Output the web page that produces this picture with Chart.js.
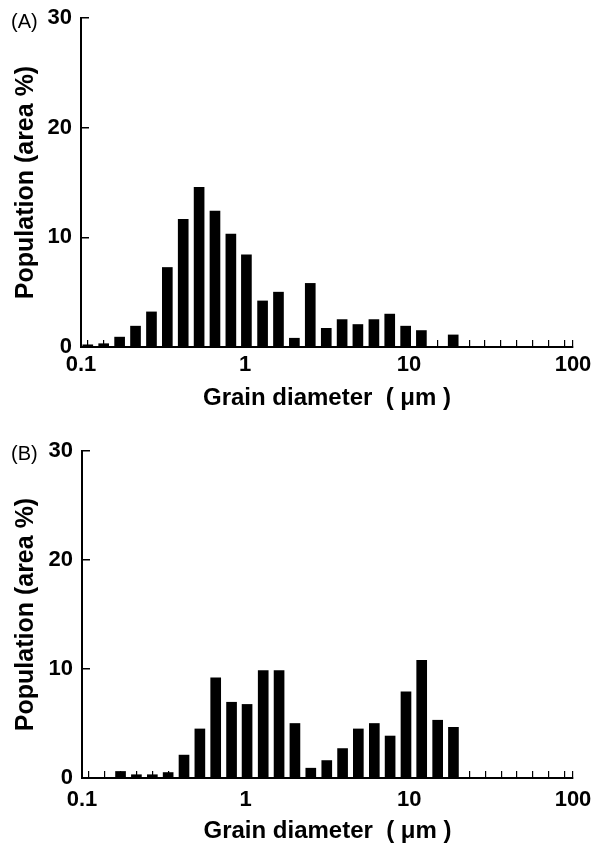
<!DOCTYPE html>
<html>
<head>
<meta charset="utf-8">
<script src="https://cdn.jsdelivr.net/npm/chart.js@4"></script>
<style>
  body { margin: 0; background: #fff; }
  #wrap { position: relative; width: 597px; height: 846px; }
  canvas { position: absolute; left: 0; }
  .tag { position: absolute; left: 11px; font: 20px/20px "Liberation Sans", Arial, sans-serif; color: #000; }
</style>
</head>
<body>
<div id="wrap">
  <canvas id="chartA" width="597" height="425" style="top:0"></canvas>
  <canvas id="chartB" width="597" height="421" style="top:425px"></canvas>
  <div class="tag" style="top:11px">(A)</div>
  <div class="tag" style="top:443px">(B)</div>
</div>
<script>
// size class centres (um), one bar per class
const diameters = [0.11, 0.1375, 0.172, 0.215, 0.269, 0.336, 0.42, 0.525, 0.656, 0.82,
  1.02, 1.28, 1.6, 2.0, 2.5, 3.13, 3.91, 4.88, 6.11, 7.63,
  9.54, 11.9, 14.9, 18.6, 23.3, 29.1, 36.4, 45.5, 56.9, 71.1, 88.9];
// population (area %) per class
const populationA = [0.2, 0.3, 0.9, 1.9, 3.2, 7.25, 11.65, 14.55, 12.4, 10.3,
  8.4, 4.2, 5.0, 0.8, 5.8, 1.7, 2.5, 2.05, 2.5, 3.0,
  1.9, 1.5, 0, 1.1, 0, 0, 0, 0, 0, 0, 0];
const populationB = [0, 0, 0.6, 0.3, 0.3, 0.5, 2.1, 4.5, 9.2, 6.95,
  6.75, 9.85, 9.85, 5.0, 0.9, 1.6, 2.7, 4.5, 5.0, 3.85,
  7.9, 10.8, 5.3, 4.65, 0, 0, 0, 0, 0, 0, 0];
const xLabels = [0.1, 1, 10, 100];
const yTicks = [0, 10, 20, 30];

Chart.defaults.font.family = '"Liberation Sans", Arial, Helvetica, sans-serif';
Chart.defaults.color = '#000';

// drop the extra room chart.js reserves for edge labels, layout padding decides
function noEdgePadding(s) {
  s.paddingTop = 0;
  s.paddingBottom = 0;
  s.paddingLeft = 0;
  s.paddingRight = 0;
}

function drawPanel(id, values, o) {
  return new Chart(document.getElementById(id), {
    type: 'bar',
    data: {
      datasets: [{
        data: diameters.map((d, i) => ({ x: d, y: values[i] })),
        backgroundColor: '#000',
        borderWidth: 0,
        barThickness: 10
      }]
    },
    options: {
      responsive: false,
      animation: false,
      layout: { padding: { top: o.top, right: 24, bottom: 0, left: 0 } },
      plugins: { legend: { display: false }, tooltip: { enabled: false } },
      scales: {
        x: {
          type: 'logarithmic',
          min: 0.1,
          max: 100,
          offset: false,
          afterBuildTicks: s => {
            s.ticks = [...xLabels, ...diameters].sort((a, b) => a - b).map(v => ({ value: v }));
          },
          afterFit: s => { s.height = o.xHeight; noEdgePadding(s); },
          ticks: {
            autoSkip: false,
            maxRotation: 0,
            padding: o.xPad,
            font: { size: 22, weight: 'bold' },
            callback: v => xLabels.includes(v) ? String(v) : ''
          },
          grid: {
            offset: false,
            drawOnChartArea: false,
            tickLength: -7,
            lineWidth: 1.2,
            color: c => (c.tick && c.tick.value < 100 && xLabels.includes(c.tick.value)) ? 'rgba(0,0,0,0)' : '#000'
          },
          border: { color: '#000', width: 2 },
          title: {
            display: true,
            text: 'Grain diameter  ( μm )',
            font: { size: 24, weight: 'bold' },
            padding: { top: 0, bottom: o.titlePad }
          }
        },
        y: {
          min: 0,
          max: 30,
          afterBuildTicks: s => { s.ticks = yTicks.map(v => ({ value: v })); },
          afterFit: s => { s.width = o.yWidth; noEdgePadding(s); },
          ticks: { padding: 17, font: { size: 22, weight: 'bold' } },
          grid: { drawOnChartArea: false, tickLength: -8, lineWidth: 1.5, color: '#000' },
          border: { color: '#000', width: 2 },
          title: {
            display: true,
            text: 'Population (area %)',
            font: { size: 25, weight: 'bold' },
            padding: { top: 11, bottom: 0 }
          }
        }
      }
    }
  });
}

drawPanel('chartA', populationA, { top: 18, xHeight: 78, xPad: 12, titlePad: 12, yWidth: 81 });
drawPanel('chartB', populationB, { top: 26, xHeight: 68, xPad: 16, titlePad: 0, yWidth: 82 });
</script>
</body>
</html>
